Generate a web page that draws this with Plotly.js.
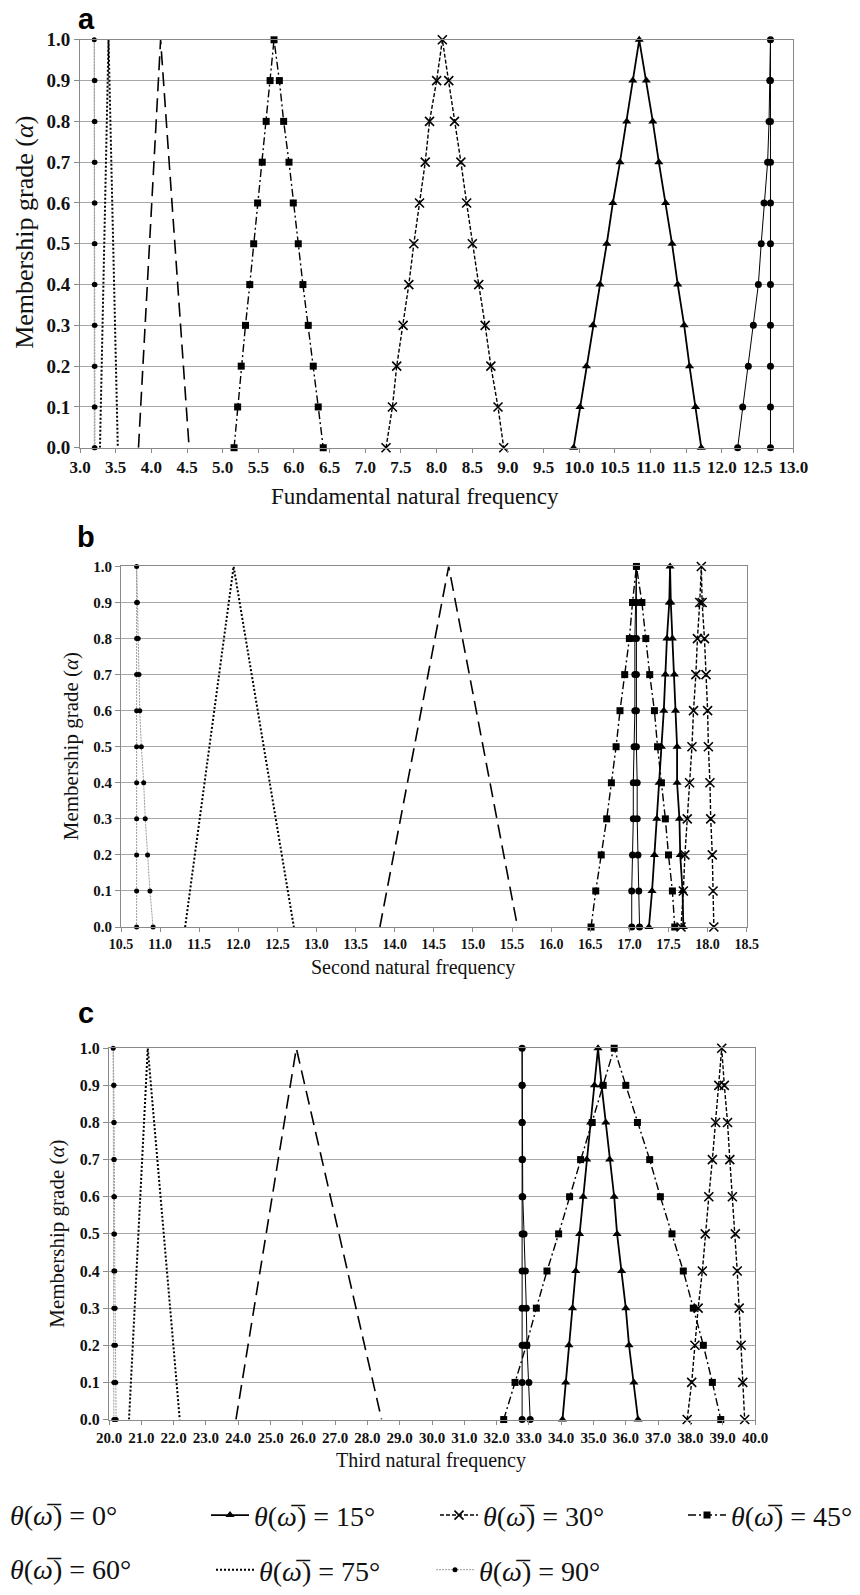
<!DOCTYPE html>
<html>
<head>
<meta charset="utf-8">
<script src="https://cdn.plot.ly/plotly-3.0.1.min.js"></script>
<style>html,body{margin:0;padding:0;background:#fff;}#chart{width:860px;height:1595px;}</style>
</head>
<body>
<div id="chart"></div>
<script>
// ---------- data ----------
const alphaLevels = [0, 0.1, 0.2, 0.3, 0.4, 0.5, 0.6, 0.7, 0.8, 0.9, 1.0];
const alphaEnds = [0, 1];
const angleLabels = ['0°', '15°', '30°', '45°', '60°', '75°', '90°'];

// Panel a : fundamental natural frequency (lower / upper bounds per alpha level)
const a0Lower  = [12.22, 12.29, 12.37, 12.44, 12.51, 12.55, 12.59, 12.64, 12.66, 12.67, 12.68];
const a0Upper  = [12.68, 12.68, 12.68, 12.68, 12.68, 12.68, 12.68, 12.68, 12.68, 12.68, 12.68];
const a15Lower = [9.92, 10.01, 10.10, 10.19, 10.29, 10.385, 10.47, 10.57, 10.665, 10.75, 10.84];
const a15Upper = [11.71, 11.63, 11.545, 11.47, 11.38, 11.30, 11.21, 11.115, 11.03, 10.94, 10.84];
const a30Lower = [7.29, 7.38, 7.44, 7.53, 7.61, 7.68, 7.76, 7.84, 7.90, 8.00, 8.08];
const a30Upper = [8.94, 8.86, 8.76, 8.68, 8.59, 8.50, 8.42, 8.34, 8.25, 8.17, 8.08];
const a45Lower = [5.16, 5.21, 5.26, 5.32, 5.38, 5.435, 5.49, 5.555, 5.61, 5.665, 5.72];
const a45Upper = [6.41, 6.34, 6.27, 6.20, 6.125, 6.06, 5.99, 5.93, 5.855, 5.795, 5.72];
const a60Lower = [3.82, 4.13];
const a60Upper = [4.53, 4.13];
const a75Lower = [3.28, 3.40];
const a75Upper = [3.53, 3.40];
const a90Lower = [3.20, 3.20, 3.20, 3.20, 3.20, 3.20, 3.20, 3.20, 3.20, 3.20, 3.20];
const a90Upper = [3.21, 3.21, 3.21, 3.21, 3.21, 3.21, 3.21, 3.21, 3.21, 3.21, 3.20];

// Panel b : second natural frequency
const b0Lower  = [17.03, 17.03, 17.04, 17.05, 17.05, 17.06, 17.07, 17.07, 17.07, 17.08, 17.09];
const b0Upper  = [17.13, 17.12, 17.11, 17.10, 17.10, 17.09, 17.09, 17.09, 17.09, 17.09, 17.09];
const b15Lower = [17.25, 17.29, 17.32, 17.35, 17.38, 17.41, 17.44, 17.46, 17.48, 17.51, 17.52];
const b15Upper = [17.69, 17.68, 17.65, 17.64, 17.61, 17.61, 17.59, 17.575, 17.55, 17.53, 17.52];
const b30Lower = [17.66, 17.69, 17.71, 17.74, 17.77, 17.80, 17.82, 17.85, 17.87, 17.90, 17.92];
const b30Upper = [18.08, 18.07, 18.06, 18.04, 18.03, 18.01, 18.00, 17.98, 17.96, 17.93, 17.92];
const b45Lower = [16.51, 16.57, 16.64, 16.71, 16.77, 16.83, 16.88, 16.94, 17.00, 17.04, 17.09];
const b45Upper = [17.58, 17.55, 17.50, 17.46, 17.41, 17.36, 17.32, 17.26, 17.21, 17.16, 17.09];
const b60Lower = [13.81, 14.69];
const b60Upper = [15.57, 14.69];
const b75Lower = [11.32, 11.94];
const b75Upper = [12.71, 11.94];
const b90Lower = [10.70, 10.70, 10.70, 10.70, 10.70, 10.70, 10.70, 10.70, 10.70, 10.70, 10.70];
const b90Upper = [10.91, 10.87, 10.84, 10.81, 10.79, 10.76, 10.74, 10.73, 10.72, 10.71, 10.70];

// Panel c : third natural frequency
const c0Lower  = [32.79, 32.79, 32.79, 32.79, 32.79, 32.79, 32.79, 32.79, 32.79, 32.79, 32.79];
const c0Upper  = [33.04, 33.00, 32.94, 32.92, 32.89, 32.85, 32.81, 32.80, 32.79, 32.79, 32.79];
const c15Lower = [34.04, 34.14, 34.24, 34.35, 34.45, 34.57, 34.68, 34.79, 34.91, 35.03, 35.14];
const c15Upper = [36.38, 36.25, 36.10, 36.00, 35.87, 35.73, 35.64, 35.50, 35.38, 35.25, 35.14];
const c30Lower = [37.90, 38.04, 38.14, 38.24, 38.37, 38.46, 38.57, 38.68, 38.78, 38.88, 38.97];
const c30Upper = [39.68, 39.62, 39.57, 39.51, 39.45, 39.39, 39.30, 39.22, 39.15, 39.05, 38.97];
const c45Lower = [32.22, 32.57, 32.92, 33.23, 33.56, 33.92, 34.26, 34.60, 34.96, 35.30, 35.64];
const c45Upper = [38.94, 38.68, 38.40, 38.09, 37.78, 37.43, 37.07, 36.74, 36.36, 36.00, 35.64];
const c60Lower = [23.93, 25.80];
const c60Upper = [28.44, 25.80];
const c75Lower = [20.62, 21.20];
const c75Upper = [22.19, 21.20];
const c90Lower = [20.15, 20.15, 20.15, 20.15, 20.15, 20.15, 20.15, 20.15, 20.15, 20.15, 20.13];
const c90Upper = [20.22, 20.21, 20.20, 20.19, 20.18, 20.17, 20.17, 20.16, 20.16, 20.15, 20.13];

const xTitles = ['Fundamental natural frequency', 'Second natural frequency', 'Third natural frequency'];
const yTitle = 'Membership grade (<i>α</i>)';
const panelLetters = ['a', 'b', 'c'];

// ---------- styles ----------
const styles = [
  {line:{color:'#000', width:1}, mode:'lines+markers', marker:{symbol:'circle', size:7, color:'#000'}},
  {line:{color:'#000', width:1.8}, mode:'lines+markers', marker:{symbol:'triangle-up', size:8, color:'#000'}},
  {line:{color:'#000', width:1.4, dash:'4px,2px'}, mode:'lines+markers', marker:{symbol:'x-thin', size:9, color:'#000', line:{color:'#000', width:1.6}}},
  {line:{color:'#000', width:1.4, dash:'8px,3px,2px,3px'}, mode:'lines+markers', marker:{symbol:'square', size:7, color:'#000'}},
  {line:{color:'#000', width:1.6, dash:'14px,7px'}, mode:'lines'},
  {line:{color:'#000', width:2, dash:'2px,2px'}, mode:'lines'},
  {line:{color:'#9a9a9a', width:1, dash:'2px,1px'}, mode:'lines+markers', marker:{symbol:'circle', size:5, color:'#000'}}
];
const legendIds = [null, 'legend', 'legend2', 'legend3', null, 'legend4', 'legend5'];

function theta(lbl){ return '<i>θ</i>(<i>ω\u0305</i>) = ' + lbl; }

function tri(lower, upper, lev){
  return {
    x: lower.concat(upper.slice(0, -1).reverse()),
    y: lev.concat(lev.slice(0, -1).reverse())
  };
}

const panels = [
  [[a0Lower,a0Upper],[a15Lower,a15Upper],[a30Lower,a30Upper],[a45Lower,a45Upper],[a60Lower,a60Upper],[a75Lower,a75Upper],[a90Lower,a90Upper]],
  [[b0Lower,b0Upper],[b15Lower,b15Upper],[b30Lower,b30Upper],[b45Lower,b45Upper],[b60Lower,b60Upper],[b75Lower,b75Upper],[b90Lower,b90Upper]],
  [[c0Lower,c0Upper],[c15Lower,c15Upper],[c30Lower,c30Upper],[c45Lower,c45Upper],[c60Lower,c60Upper],[c75Lower,c75Upper],[c90Lower,c90Upper]]
];
const axisIds = [['x','y'],['x2','y2'],['x3','y3']];
const drawOrder = [6, 5, 4, 3, 2, 1, 0];

const traces = [];
panels.forEach((series, p) => {
  drawOrder.forEach(s => {
    const [lo, up] = series[s];
    const lev = lo.length === alphaLevels.length ? alphaLevels : alphaEnds;
    const d = tri(lo, up, lev);
    const st = styles[s];
    const t = {
      type:'scatter', x:d.x, y:d.y, mode:st.mode, line:st.line,
      xaxis:axisIds[p][0], yaxis:axisIds[p][1], cliponaxis:false,
      name: theta(angleLabels[s]), hoverinfo:'skip', showlegend:false
    };
    if (st.marker) t.marker = st.marker;
    if (p === 0 && legendIds[s]) { t.showlegend = true; t.legend = legendIds[s]; }
    traces.push(t);
  });
});

// ---------- layout ----------
const W = 860, H = 1595;
const px = v => v / W;
const py = v => 1 - v / H;
const serif = "'Liberation Serif', 'Times New Roman', 'DejaVu Serif', serif";
const sans = "'Liberation Sans', Arial, sans-serif";
const gridC = '#a8a8a8', lineC = '#8a8a8a';

function xax(dom, range, dtick, fs, anchor){
  return {domain:dom, range:range, dtick:dtick, tick0:range[0], tickformat:'.1f', anchor:anchor,
    showgrid:false, zeroline:false, showline:true, linecolor:lineC, linewidth:1, mirror:true,
    ticks:'outside', ticklen:4, tickcolor:lineC, tickwidth:1,
    tickfont:{family:serif, size:fs, color:'#111', weight:'bold'}, fixedrange:true};
}
function yax(dom, fs, anchor){
  return {domain:dom, range:[0,1], dtick:0.1, tick0:0, tickformat:'.1f', anchor:anchor,
    showgrid:true, gridcolor:gridC, gridwidth:1, zeroline:false, showline:true, linecolor:lineC, linewidth:1, mirror:true,
    ticks:'outside', ticklen:5, tickcolor:lineC, tickwidth:1,
    tickfont:{family:serif, size:fs, color:'#111', weight:'bold'}, fixedrange:true};
}

function ann(text, x, y, size, opts){
  return Object.assign({text:text, x:px(x), y:py(y), xref:'paper', yref:'paper', showarrow:false,
    xanchor:'center', yanchor:'middle', font:{family:serif, size:size, color:'#111'}}, opts || {});
}
const letterFont = {family:sans, size:29, color:'#000', weight:'bold'};
const annotations = [
  ann(panelLetters[0], 86, 19, 29, {font:letterFont}),
  ann(panelLetters[1], 86, 540, 29, {font:letterFont}),
  ann(panelLetters[2], 86, 1018, 29, {font:letterFont}),
  ann(xTitles[0], 415, 499, 23),
  ann(xTitles[1], 413, 972, 20),
  ann(xTitles[2], 431, 1468, 20),
  ann(yTitle, 25, 234, 26, {textangle:-90}),
  ann(yTitle, 71, 750, 21, {textangle:-90}),
  ann(yTitle, 57, 1240, 21, {textangle:-90}),
  ann(theta(angleLabels[0]), 8, 1523, 28, {xanchor:'left'}),
  ann(theta(angleLabels[4]), 8, 1577, 28, {xanchor:'left'})
];

function leg(x, y){
  return {x:px(x), y:py(y), xanchor:'left', yanchor:'middle', bgcolor:'rgba(0,0,0,0)', borderwidth:0,
    itemwidth:38, font:{family:serif, size:28, color:'#111'}, orientation:'v'};
}

const layout = {
  width:W, height:H, margin:{l:0, r:0, t:0, b:0}, paper_bgcolor:'#fff', plot_bgcolor:'#fff',
  hovermode:false, dragmode:false,
  xaxis:  xax([px(80), px(793.3)], [3, 13], 0.5, 17, 'y'),
  yaxis:  yax([py(450), py(40)], 19, 'x'),
  xaxis2: xax([px(121), px(746.7)], [10.5, 18.5], 0.5, 14, 'y2'),
  yaxis2: yax([py(931.7), py(569.3)], 15, 'x2'),
  xaxis3: xax([px(109), px(755)], [20, 40], 1, 15, 'y3'),
  yaxis3: yax([py(1426.7), py(1053.5)], 16, 'x3'),
  legend:  leg(206, 1523),
  legend2: leg(435, 1523),
  legend3: leg(683, 1523),
  legend4: leg(211, 1578),
  legend5: leg(431, 1578),
  annotations: annotations
};

Plotly.newPlot('chart', traces, layout, {staticPlot:true, displayModeBar:false});
</script>
</body>
</html>
